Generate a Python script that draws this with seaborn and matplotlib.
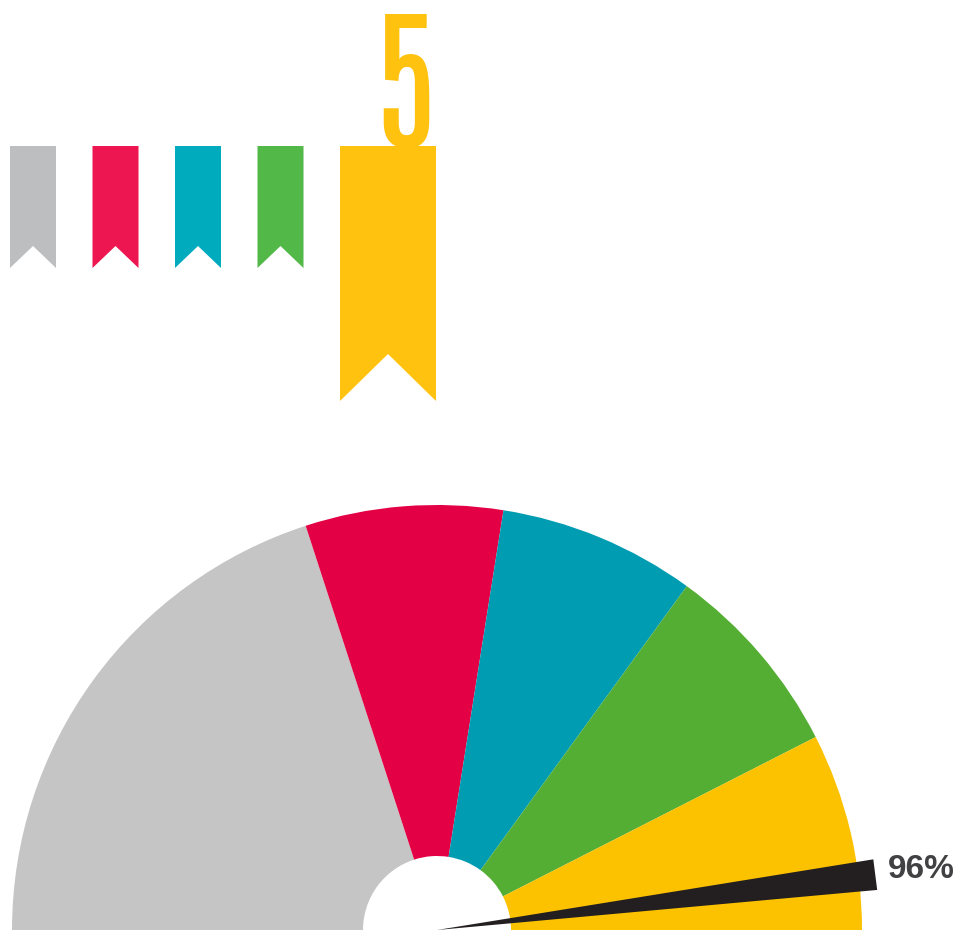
import numpy as np
import matplotlib
matplotlib.use("Agg")
import matplotlib.pyplot as plt
import seaborn as sns
from matplotlib.patches import Polygon
from matplotlib.textpath import TextPath
from matplotlib.font_manager import FontProperties

# data
segment_labels = ['grupo 1', 'grupo 2', 'grupo 3', 'grupo 4', 'grupo 5']
segment_shares = [40, 15, 15, 15, 15]          # % of the half gauge
gauge_colors = ['#C5C5C5', '#E30045', '#009CB2', '#54AE33', '#FCC200']
ribbon_colors = ['#BDBEC0', '#ED1651', '#00ABBD', '#52B848', '#FEC20F']
needle_value = 96
needle_label = '96%'
highlight_label = '5'

W, H = 957, 930

sns.set_theme(style="white")
plt.rcParams['font.family'] = ['Liberation Sans', 'DejaVu Sans']

fig = plt.figure(figsize=(W / 100, H / 100), dpi=100)
ax = fig.add_axes([0, 0, 1, 1])


def py(y):
    # pixel row -> data y (y axis goes up)
    return H - y


# ribbons at the top
for i, cor in enumerate(ribbon_colors):
    big = i == len(ribbon_colors) - 1
    x0 = 10 + 82.5 * i
    largura = 96 if big else 46
    fundo = 401 if big else 268
    entalhe = 47 if big else 22
    pts = [(x0, py(146)), (x0 + largura, py(146)), (x0 + largura, py(fundo)),
           (x0 + largura / 2, py(fundo - entalhe)), (x0, py(fundo))]
    ax.add_patch(Polygon(pts, closed=True, facecolor=cor, edgecolor='none', zorder=3))

# big number above the highlighted ribbon (condensed font, sized by its ink box)
fonte5 = FontProperties(family='Antonio')
ext = TextPath((0, 0), highlight_label, size=100, prop=fonte5).get_extents()
escala = 134 / ext.height            # px per unit of size=100
tam_px = 100 * escala
ax.text(383 - ext.x0 * escala, py(15 + ext.y1 * escala), highlight_label,
        ha='left', va='baseline', fontsize=tam_px * 72 / 100,
        color=ribbon_colors[-1], fontproperties=None, family='Antonio', zorder=2)

# half donut gauge
cx, cy, raio = 437, 0, 425
ax.pie(np.array(segment_shares) / 200, normalize=False, colors=gauge_colors,
       startangle=180, counterclock=False, radius=raio, center=(cx, cy),
       wedgeprops=dict(width=raio - 74, linewidth=0))

# needle
theta = np.deg2rad(180 - 1.8 * needle_value)
d = np.deg2rad(2.0)
comp = 442
xs = [cx, cx + comp * np.cos(theta + d), cx + comp * np.cos(theta - d)]
ys = [cy, cy + comp * np.sin(theta + d), cy + comp * np.sin(theta - d)]
ax.fill(xs, ys, color='#231F20', linewidth=0, zorder=4)

ax.text(888, py(869), needle_label, ha='left', va='center', fontsize=24,
        fontweight='bold', color='#414042')

ax.set_xlim(0, W)
ax.set_ylim(0, H)
ax.set_aspect('equal')
ax.axis('off')

fig.savefig('out.png', dpi=100)
